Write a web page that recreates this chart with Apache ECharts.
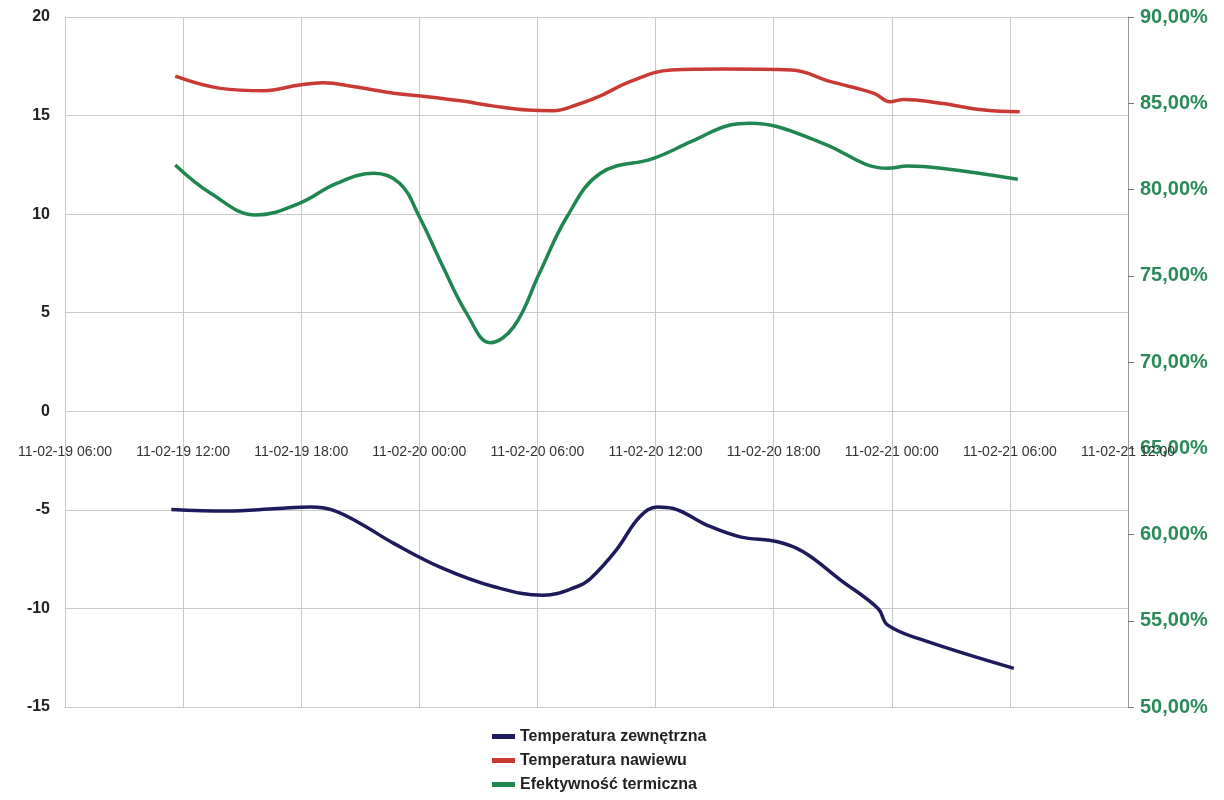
<!DOCTYPE html>
<html>
<head>
<meta charset="utf-8">
<script src="https://cdn.jsdelivr.net/npm/echarts@6/dist/echarts.min.js"></script>
<style>
  html, body { margin: 0; padding: 0; background: #fff; }
  #chart { width: 1224px; height: 800px; }
</style>
</head>
<body>
<div id="chart"></div>
<script>
// hours counted from 11-02-19 06:00
const tickLabels = ['11-02-19 06:00', '11-02-19 12:00', '11-02-19 18:00', '11-02-20 00:00', '11-02-20 06:00',
  '11-02-20 12:00', '11-02-20 18:00', '11-02-21 00:00', '11-02-21 06:00', '11-02-21 12:00']

// Temperatura zewnętrzna [h, °C]
const tempOut = [[5.4, -4.98], [8.2, -5.06], [10.8, -4.93], [12.5, -4.85], [13.6, -5.01], [15.0, -5.69],
  [16.7, -6.70], [19.2, -7.97], [21.8, -8.90], [24.3, -9.33], [26.0, -8.90], [26.7, -8.48], [28.0, -7.04],
  [29.2, -5.35], [30.1, -4.85], [30.9, -4.93], [32.6, -5.77], [34.3, -6.37], [36.2, -6.62], [37.5, -7.13],
  [39.4, -8.56], [41.3, -10.0], [41.8, -10.85], [43.6, -11.61], [48.2, -13.04]]

// Temperatura nawiewu [h, °C]
const tempSupply = [[5.6, 17.0], [7.9, 16.38], [10.1, 16.26], [11.9, 16.55], [13.1, 16.67], [14.7, 16.46],
  [16.7, 16.13], [18.4, 15.96], [20.1, 15.75], [21.8, 15.48], [23.5, 15.28], [24.8, 15.25], [26.0, 15.55],
  [27.2, 16.0], [28.7, 16.72], [30.8, 17.31], [33.5, 17.36], [36.9, 17.31], [38.9, 16.72], [41.1, 16.13],
  [41.9, 15.70], [42.6, 15.82], [44.5, 15.62], [46.7, 15.28], [48.5, 15.20]]

// Efektywność termiczna [h, %]
const efficiency = [[5.6, 81.42], [7.4, 79.78], [9.7, 78.52], [11.9, 79.2], [13.8, 80.36], [15.7, 80.94],
  [17.0, 80.36], [18.0, 78.42], [19.2, 75.52], [20.4, 72.82], [21.6, 71.12], [22.8, 72.05], [24.1, 75.14],
  [25.5, 78.42], [27.2, 80.94], [29.9, 81.81], [31.8, 82.77], [33.8, 83.74], [34.8, 83.84], [36.2, 83.64],
  [38.5, 82.68], [41.8, 81.23], [42.8, 81.36], [44.5, 81.23], [48.4, 80.59]]

const chart = echarts.init(document.getElementById('chart'))

const gridColor = '#c9c9c9'
const font = 'Liberation Sans, Arial, sans-serif'

const option = {
  animation: false,
  backgroundColor: '#fff',
  grid: { left: 65, right: 96, top: 17, bottom: 93 },
  legend: {
    orient: 'vertical',
    left: 492,
    top: 727,
    padding: 0,
    itemGap: 5,
    itemWidth: 23,
    itemHeight: 5,
    icon: 'rect',
    textStyle: { fontFamily: font, fontSize: 16, lineHeight: 19, fontWeight: 'bold', color: '#222' },
    data: ['Temperatura zewnętrzna', 'Temperatura nawiewu', 'Efektywność termiczna']
  },
  xAxis: {
    type: 'value',
    min: 0,
    max: 54,
    interval: 6,
    axisLine: { onZero: false, show: true, lineStyle: { color: gridColor } },
    axisTick: { show: false },
    axisLabel: {
      // labels sit just under the 0 line, as in the original
      margin: -262,
      fontFamily: font,
      fontSize: 14,
      color: '#333',
      formatter: v => tickLabels[Math.round(v / 6)]
    },
    splitLine: { show: true, lineStyle: { color: gridColor } }
  },
  yAxis: [
    {
      type: 'value',
      min: -15,
      max: 20,
      interval: 5,
      axisLine: { show: true, lineStyle: { color: gridColor } },
      axisTick: { show: false },
      axisLabel: { margin: 15, fontFamily: font, fontSize: 16, fontWeight: 'bold', color: '#222' },
      splitLine: { lineStyle: { color: gridColor } }
    },
    {
      type: 'value',
      min: 50,
      max: 90,
      interval: 5,
      position: 'right',
      axisLine: { show: true, lineStyle: { color: '#999' } },
      axisTick: { show: true, length: 6, lineStyle: { color: '#777' } },
      axisLabel: {
        margin: 12,
        fontFamily: font,
        fontSize: 20,
        fontWeight: 'bold',
        color: '#2a8a5a',
        formatter: v => v.toFixed(2).replace('.', ',') + '%'
      },
      splitLine: { show: false }
    }
  ],
  series: [
    {
      name: 'Temperatura zewnętrzna',
      type: 'line',
      data: tempOut,
      smooth: 0.4,
      symbol: 'none',
      color: '#1e1b5c',
      lineStyle: { width: 3.5, color: '#1e1b5c' }
    },
    {
      name: 'Temperatura nawiewu',
      type: 'line',
      data: tempSupply,
      smooth: 0.4,
      symbol: 'none',
      color: '#c83a33',
      lineStyle: { width: 3.5, color: '#c83a33' }
    },
    {
      name: 'Efektywność termiczna',
      type: 'line',
      yAxisIndex: 1,
      data: efficiency,
      smooth: 0.4,
      symbol: 'none',
      color: '#1f8650',
      lineStyle: { width: 3.5, color: '#1f8650' }
    }
  ]
}

chart.setOption(option)
</script>
</body>
</html>
